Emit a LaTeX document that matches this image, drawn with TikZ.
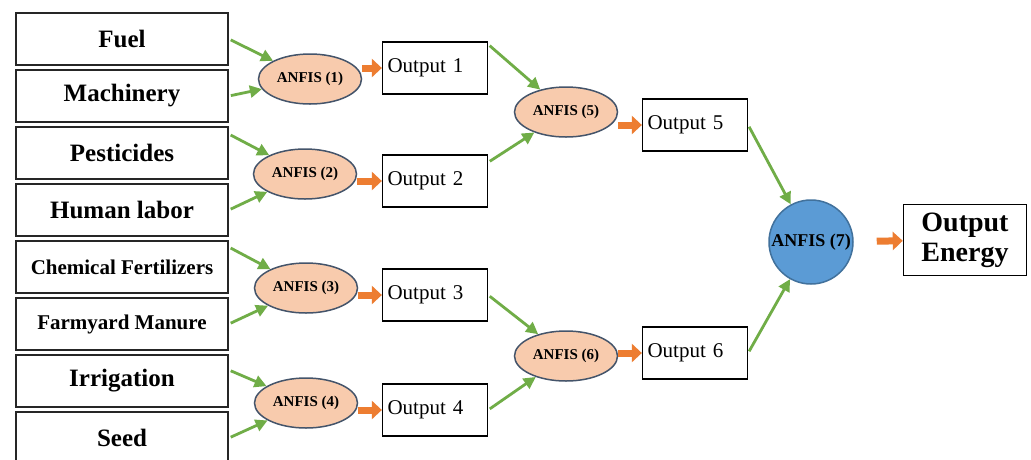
\documentclass[tikz,border=0pt]{standalone}
\usepackage{fontspec}
\setmainfont{Liberation Serif}
\usetikzlibrary{arrows.meta,shapes.geometric}

\definecolor{peach}{HTML}{F8CBAD}
\definecolor{slate}{HTML}{44546A}
\definecolor{skyblue}{HTML}{5B9BD5}
\definecolor{deepblue}{HTML}{41719C}
\definecolor{leafgreen}{HTML}{70AD47}
\definecolor{rust}{HTML}{ED7D31}

\tikzset{
  inputbox/.style={draw=black!85, line width=1.8pt, minimum width=212pt, minimum height=52pt,
    inner sep=0pt, font=\bfseries\fontsize{25}{30}\selectfont},
  smallinput/.style={inputbox, font=\bfseries\fontsize{21}{25}\selectfont},
  outbox/.style={draw, line width=1.3pt, minimum height=52pt, text width=95pt, inner sep=5pt,
    align=left, font=\fontsize{21}{25}\selectfont},
  anfis/.style={ellipse, draw=slate, line width=1.5pt, fill=peach, minimum width=103pt,
    minimum height=50pt, inner sep=0pt, font=\bfseries\fontsize{15}{18}\selectfont},
  feed/.style={draw=leafgreen, line width=2.8pt, -{Triangle[length=12pt,width=12pt]}, shorten <=2pt},
  pass/.style={draw=rust, line width=7pt, -{Triangle[length=10pt,width=18pt]}},
}

\begin{document}
\begin{tikzpicture}[x=1pt,y=-1pt]
\useasboundingbox (0,0) rectangle (1031,459);
\fill[white] (0,0) rectangle (1031,459);

% energy inputs
\node[inputbox] (fuel) at (122,39) {Fuel};
\node[inputbox] (mach) at (122,96) {Machinery};
\node[inputbox] (pest) at (122,153) {Pesticides};
\node[inputbox] (labor) at (122,210) {Human labor};
\node[smallinput] (chem) at (122,267) {Chemical Fertilizers};
\node[smallinput] (manure) at (122,324) {Farmyard Manure};
\node[inputbox] (irrig) at (122,381) {Irrigation};
\node[inputbox] (seed) at (122,438) {Seed};

% first layer
\node[anfis] (a1) at (310,79) {ANFIS (1)};
\node[anfis] (a2) at (305,174) {ANFIS (2)};
\node[anfis] (a3) at (306,288) {ANFIS (3)};
\node[anfis] (a4) at (306,403) {ANFIS (4)};
\node[outbox] (o1) at (435,68) {Output 1};
\node[outbox] (o2) at (435,181) {Output 2};
\node[outbox] (o3) at (435,295) {Output 3};
\node[outbox] (o4) at (435,410) {Output 4};

% second layer
\node[anfis] (a5) at (566,112) {ANFIS (5)};
\node[anfis] (a6) at (566,356) {ANFIS (6)};
\node[outbox] (o5) at (695,125) {Output 5};
\node[outbox] (o6) at (695,353) {Output 6};

% final model
\node[circle, draw=deepblue, line width=1.5pt, fill=skyblue, minimum size=84pt, inner sep=0pt,
  font=\bfseries\fontsize{18}{20}\selectfont] (a7) at (811,242) {ANFIS (7)};
\node[draw, line width=1.5pt, minimum width=123pt, minimum height=71pt, inner sep=0pt, align=center,
  font=\bfseries\fontsize{28}{30}\selectfont] (energy) at (965,240) {Output\\Energy};

% green feeds
\draw[feed] (fuel.east) -- (a1);
\draw[feed] (mach.east) -- (a1);
\draw[feed] ([yshift=-8pt]pest.north east) -- (a2);
\draw[feed] (labor.east) -- (a2);
\draw[feed] ([yshift=-7pt]chem.north east) -- (a3);
\draw[feed] (manure.east) -- (a3);
\draw[feed] ([yshift=11pt]irrig.east) -- (a4);
\draw[feed] (seed.east) -- (a4);
\draw[feed] ([yshift=-3pt]o1.north east) -- (a5);
\draw[feed] ([yshift=-8pt]o2.north east) -- (a5);
\draw[feed] (o3.east) -- (a6);
\draw[feed] (o4.east) -- (a6);
\draw[feed] (o5.east) -- (a7);
\draw[feed] (o6.east) -- (a7);

% orange outputs
\draw[pass] (a1.east |- o1) -- (o1.west);
\draw[pass] (a2.east |- o2) -- (o2.west);
\draw[pass] (a3.east |- o3) -- (o3.west);
\draw[pass] (a4.east |- o4) -- (o4.west);
\draw[pass] (a5.east |- o5) -- (o5.west);
\draw[pass] (a6.east |- o6) -- (o6.west);
\draw[pass, shorten <=23pt] (a7) -- (energy);
\end{tikzpicture}
\end{document}
